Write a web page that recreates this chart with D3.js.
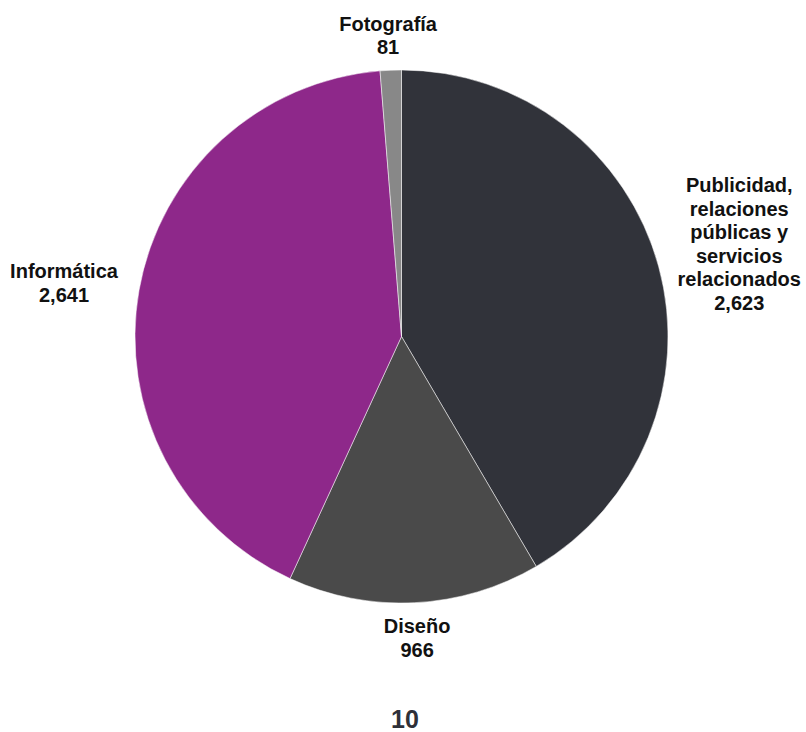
<!DOCTYPE html>
<html>
<head>
<meta charset="utf-8">
<script src="https://cdn.jsdelivr.net/npm/d3@7"></script>
<style>
  html, body { margin: 0; padding: 0; background: #ffffff; }
  svg { display: block; }
  text { font-family: "Liberation Sans", Arial, Helvetica, sans-serif; font-weight: bold; }
</style>
</head>
<body>
<svg id="chart" width="806" height="732"></svg>
<script>
// ---- data ----
const categories = ["Publicidad, relaciones públicas y servicios relacionados", "Diseño", "Informática", "Fotografía"];
const labelLines = [
  ["Publicidad,", "relaciones", "públicas y", "servicios", "relacionados"],
  ["Diseño"],
  ["Informática"],
  ["Fotografía"]
];
const values = [2623, 966, 2641, 81];
const colors = ["#31333a", "#4a4a4a", "#8e288a", "#888888"];
const footerText = "10";

// ---- layout ----
const W = 806, H = 732;
const cx = 401.5, cy = 336.5, R = 266.5;
const fontSize = 20, lineStep = 23.5;

const svg = d3.select("#chart");
const data = categories.map((c, i) => ({ name: c, lines: labelLines[i], value: values[i], color: colors[i] }));

const pie = d3.pie().value(d => d.value).sort(null);
const arc = d3.arc().innerRadius(0).outerRadius(R);
const arcs = pie(data);
const fmt = d3.format(",");

const g = svg.append("g").attr("transform", `translate(${cx},${cy})`);
g.selectAll("path.slice")
  .data(arcs)
  .join("path")
  .attr("class", "slice")
  .attr("d", arc)
  .attr("fill", d => d.data.color)
  .attr("stroke", "#ffffff")
  .attr("stroke-width", 0.5);

// labels
const lg = g.append("g");
arcs.forEach(a => {
  const mid = (a.startAngle + a.endAngle) / 2;
  const s = Math.sin(mid), c = Math.cos(mid);
  const lines = a.data.lines.concat([fmt(a.data.value)]);
  const t = lg.append("text")
    .attr("text-anchor", "middle")
    .attr("font-size", fontSize)
    .attr("fill", "#111111");
  lines.forEach((ln, i) => {
    t.append("tspan").attr("x", 0).attr("y", i * lineStep).text(ln);
  });
  // measure block
  const bb = t.node().getBBox();
  const halfW = bb.width / 2;
  const capH = fontSize * 0.72;
  const blockTop = -capH;
  const blockBottom = (lines.length - 1) * lineStep;
  const halfH = (blockBottom - blockTop) / 2;
  const gap = 16 + 6 * Math.abs(s);
  const ax = s * (R + gap), ay = -c * (R + gap);
  const centerX = ax + s * halfW;
  const centerY = ay - c * halfH;
  const dy = centerY - (blockTop + blockBottom) / 2;
  t.attr("transform", `translate(${centerX},${dy})`);
});

// footer
svg.append("text")
  .attr("x", 405)
  .attr("y", 728)
  .attr("text-anchor", "middle")
  .attr("font-size", 25)
  .attr("fill", "#2e3038")
  .text(footerText);
</script>
</body>
</html>
